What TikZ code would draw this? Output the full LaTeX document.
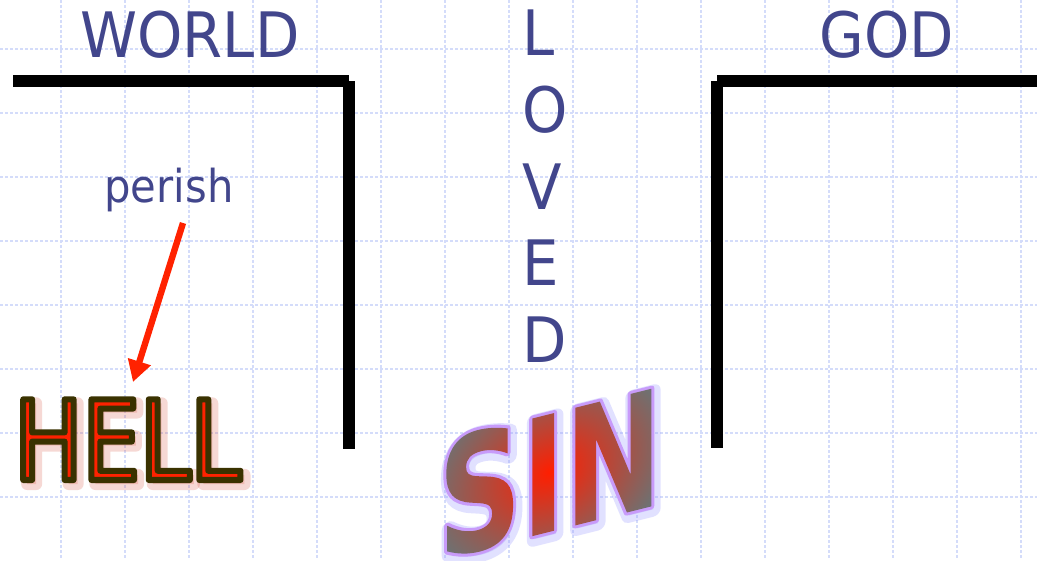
\documentclass[tikz,border=0pt]{standalone}
\usepackage{fontspec}
\usetikzlibrary{arrows.meta,calc}
\newfontfamily\tah[FakeStretch=0.92]{DejaVu Sans}
\newfontfamily\sinfont[FakeStretch=0.72]{DejaVu Sans}
\newfontfamily\hellfont[FakeStretch=0.82]{DejaVu Sans}
\definecolor{txtblue}{RGB}{66,70,140}
\definecolor{gridc}{RGB}{212,220,250}
\definecolor{hellred}{RGB}{255,34,0}
\definecolor{hellshadow}{RGB}{215,80,60}
\definecolor{sinred}{RGB}{255,30,0}
\definecolor{singray}{RGB}{112,112,112}
\definecolor{sinpurple}{RGB}{200,155,250}
\definecolor{singlow}{RGB}{150,150,255}
\definecolor{arrred}{RGB}{255,34,0}
\newcommand\txtrender[1]{\special{pdf:literal direct #1}}
\newlength\gradw
\newlength\gradh
\newcommand\gradtext[1]{%
  \setbox0\hbox{#1}\global\gradw=\wd0 \global\gradh=\ht0
  \txtrender{5 Tr 4.5 w 1 j}\box0
  \hbox to 0pt{\hss\tikz[overlay]{\shade[inner color=sinred, outer color=singray]
    ({-\gradw-6pt},-28pt) rectangle (6pt,{\gradh+28pt});}}}
\tikzset{
  sinstyle/.style={font=\sinfont\bfseries\fontsize{121}{121}\selectfont, yslant=0.25, inner sep=0pt},
  hellstyle/.style={font=\hellfont\fontsize{83}{83}\selectfont, inner sep=0pt, anchor=base west},
  lbl/.style={text=txtblue, font=\tah\fontsize{47}{57.4}\selectfont, inner sep=0pt},
  smalllbl/.style={text=txtblue, font=\tah\fontsize{34}{40}\selectfont, inner sep=0pt},
  gridline/.style={draw=gridc, line width=1.5pt, dash pattern=on 2.25pt off 1.5pt},
  bar/.style={draw=black, line width=9pt, line cap=butt},
  arrowstyle/.style={draw=arrred, line width=4.8pt, -{Triangle[length=16pt,width=17pt]}}
}
\begin{document}
\begin{tikzpicture}[x=0.75pt,y=-0.75pt]
\fill[white] (0,0) rectangle (1037,560);
\useasboundingbox (0,0) rectangle (1037,560);
% grid
\foreach \gx in {61,125,...,1021} \draw[gridline] (\gx,0) -- (\gx,560);
\foreach \gy in {49,113,...,497} \draw[gridline] (0,\gy) -- (1037,\gy);
% brackets
\draw[bar] (13,81) -- (349,81);
\draw[bar] (349,81) -- (349,449);
\draw[bar] (717,81) -- (717,448);
\draw[bar] (717,81) -- (1037,81);
% labels
\node[lbl, anchor=base] (world) at (190,58) {WORLD};
\node[lbl, anchor=base] (god) at (887,58) {GOD};
\node[lbl, align=left, anchor=north west] (loved) at (522,10) {L\\O\\V\\E\\D};
\node[smalllbl, anchor=base] (perish) at (169,202) {perish};
% arrow
\coordinate (arrtail) at (183,223);
\coordinate (arrhead) at (133,382);
\draw[arrowstyle] (arrtail) -- (arrhead);
% HELL: soft shadow, then red text with dark outline
\node[hellstyle, text=hellshadow, opacity=0.22] (hellshadow) at (18,484) {\txtrender{2 Tr 9 w 1 j}HELL};
\node[hellstyle, text=hellred] (hell) at (14,480) {\txtrender{2 Tr 4.5 w 1 j 0.227 0.196 0 RG}HELL};
% SIN: glow, then gradient text with purple outline
\node[sinstyle, text=singlow, opacity=0.28] (singlow) at (552,476) {\txtrender{2 Tr 11 w 1 j}SIN};
\node[sinstyle, text=sinpurple] (sin) at (550,473) {\gradtext{SIN}};
\end{tikzpicture}
\end{document}
